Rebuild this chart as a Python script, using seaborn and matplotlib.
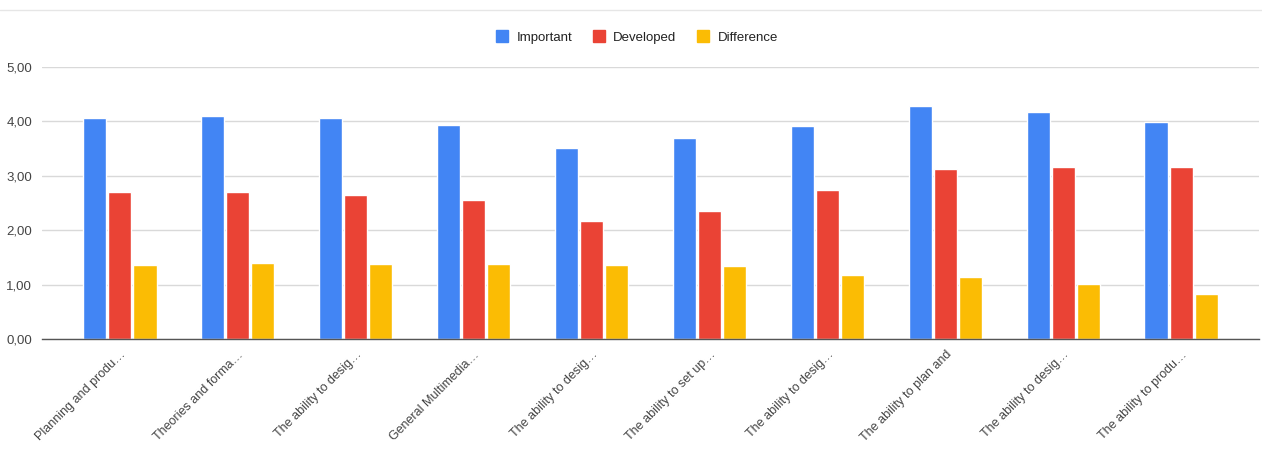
import pandas as pd
import numpy as np
import matplotlib
matplotlib.use("Agg")
import matplotlib.pyplot as plt
import seaborn as sns
from matplotlib.lines import Line2D
from matplotlib.ticker import FuncFormatter

# data
categories = ["Planning and produ…", "Theories and forma…", "The ability to desig…",
              "General Multimedia…", "The ability to desig…", "The ability to set up…",
              "The ability to desig…", "The ability to plan and", "The ability to desig…",
              "The ability to produ…"]
important = [4.06, 4.10, 4.06, 3.93, 3.51, 3.69, 3.92, 4.28, 4.17, 3.99]
developed = [2.70, 2.70, 2.65, 2.56, 2.17, 2.35, 2.74, 3.13, 3.16, 3.16]
difference = [1.36, 1.40, 1.38, 1.38, 1.36, 1.34, 1.18, 1.14, 1.01, 0.83]
series = ["Important", "Developed", "Difference"]
colors = ["#4285F4", "#EA4335", "#FBBC04"]

# unique ids so repeated labels stay separate groups
ids = list(range(len(categories)))
df = pd.DataFrame({"id": ids, "Important": important,
                   "Developed": developed, "Difference": difference})
long = df.melt(id_vars="id", value_vars=series, var_name="series", value_name="value")

sns.set_style("white")
plt.rcParams["font.family"] = ["Liberation Sans", "DejaVu Sans"]

fig = plt.figure(figsize=(12.62, 4.58), dpi=100)
ax = fig.add_axes([42/1262, (458-339)/458, (1259-42)/1262, (339-67)/458])

sns.barplot(data=long, x="id", y="value", hue="series", hue_order=series,
            palette=colors, width=0.64, gap=0.08, ax=ax, legend=False,
            errorbar=None, saturation=1)

ax.set_ylim(0, 5)
ax.set_xlim(-0.66, 9.66)
ax.set_yticks(np.arange(0, 5.01, 1))
ax.yaxis.set_major_formatter(FuncFormatter(lambda v, p: f"{v:.2f}".replace(".", ",")))
ax.grid(axis="y", color="#d9d9d9", linewidth=1)
ax.set_axisbelow(True)
for s in ["top", "right", "left"]:
    ax.spines[s].set_visible(False)
ax.spines["bottom"].set_color("#555555")
ax.spines["bottom"].set_linewidth(1)
ax.tick_params(axis="y", length=0, labelsize=9.5, labelcolor="#444444", pad=7)
ax.tick_params(axis="x", length=0, labelsize=9, labelcolor="#444444", pad=7)
ax.set_xticks(ids)
ax.set_xticklabels(categories, rotation=45, ha="right", rotation_mode="anchor")
ax.set_xlabel("")
ax.set_ylabel("")

handles = [Line2D([0], [0], marker="s", linestyle="", markersize=9,
                  markerfacecolor=c, markeredgecolor=c) for c in colors]
fig.legend(handles, series, loc="center", bbox_to_anchor=(635/1262, 1 - 38/458),
           ncol=3, frameon=False, fontsize=9.5, handletextpad=0.35,
           columnspacing=1.25, handlelength=1.5, labelcolor="#222222")

# thin border line at top
fig.add_artist(Line2D([0, 1], [1 - 10/458, 1 - 10/458], color="#e6e6e6", linewidth=1))

fig.savefig("out.png", dpi=100)
